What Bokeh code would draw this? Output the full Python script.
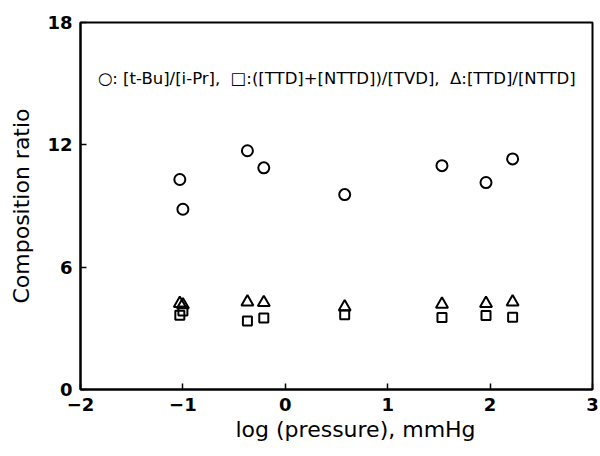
from bokeh.plotting import figure
from bokeh.models import Range1d, Label, Title, FixedTicker
from bokeh.embed import file_html
from bokeh.resources import INLINE

# data
log_pressure = [-1.03, -1.00, -0.37, -0.21, 0.58, 1.53, 1.96, 2.22]
tbu_ipr = [10.30, 8.84, 11.71, 10.87, 9.56, 10.98, 10.15, 11.31]
ttd_nttd_tvd = [3.64, 3.85, 3.36, 3.51, 3.67, 3.53, 3.63, 3.54]
ttd_nttd = [4.22, 4.15, 4.29, 4.26, 4.05, 4.18, 4.22, 4.29]

x_ticks = [-2, -1, 0, 1, 2, 3]
y_ticks = [0, 6, 12, 18]

NB = "\u00a0"
legend_text = ("○: [t-Bu]/[i-Pr]," + NB + NB + "□:([TTD]+[NTTD])/[TVD]," + NB + NB
               + "Δ:[TTD]/[NTTD]")
x_label = "log (pressure), mmHg"
y_label = "Composition ratio"

FONT = "DejaVu Sans"

p = figure(width=600, height=456, output_backend="svg", toolbar_location=None,
           x_range=Range1d(-2, 3), y_range=Range1d(0, 18),
           min_border_left=80, min_border_right=8, min_border_top=22, min_border_bottom=67)
p.background_fill_color = "white"
p.border_fill_color = "white"
p.grid.visible = False
p.outline_line_color = "black"
p.outline_line_width = 2

for ax in (p.xaxis[0], p.yaxis[0]):
    ax.axis_line_width = 2
    ax.axis_line_color = "black"
    ax.major_tick_in = 6
    ax.major_tick_out = 0
    ax.major_tick_line_width = 1.5
    ax.minor_tick_line_color = None
    ax.major_label_text_font = FONT
    ax.major_label_text_font_size = "18px"
    ax.major_label_text_font_style = "bold"
    ax.major_label_text_color = "black"
    ax.major_label_standoff = 8

p.xaxis.ticker = FixedTicker(ticks=x_ticks)
p.yaxis.ticker = FixedTicker(ticks=y_ticks)

p.yaxis.axis_label = y_label
p.yaxis.axis_label_text_font = FONT
p.yaxis.axis_label_text_font_size = "22px"
p.yaxis.axis_label_text_font_style = "normal"
p.yaxis.axis_label_text_color = "black"
p.yaxis.axis_label_standoff = 10

p.add_layout(Title(text=x_label, align="left", offset=155, text_font=FONT,
                   text_font_size="22px", text_font_style="normal", text_color="black",
                   standoff=2), "below")

p.scatter(log_pressure, tbu_ipr, marker="circle", size=11, line_width=2,
          line_color="black", fill_color=None)
p.scatter(log_pressure, ttd_nttd_tvd, marker="square", size=9, line_width=2,
          line_color="black", fill_color=None)
p.scatter(log_pressure, ttd_nttd, marker="triangle", size=12, line_width=2,
          line_color="black", fill_color=None)

p.add_layout(Label(x=-1.83, y=15.25, text=legend_text, text_font=FONT,
                   text_font_size="16.5px", text_baseline="middle", text_color="black"))

open("out.html", "w").write(file_html(p, INLINE))
